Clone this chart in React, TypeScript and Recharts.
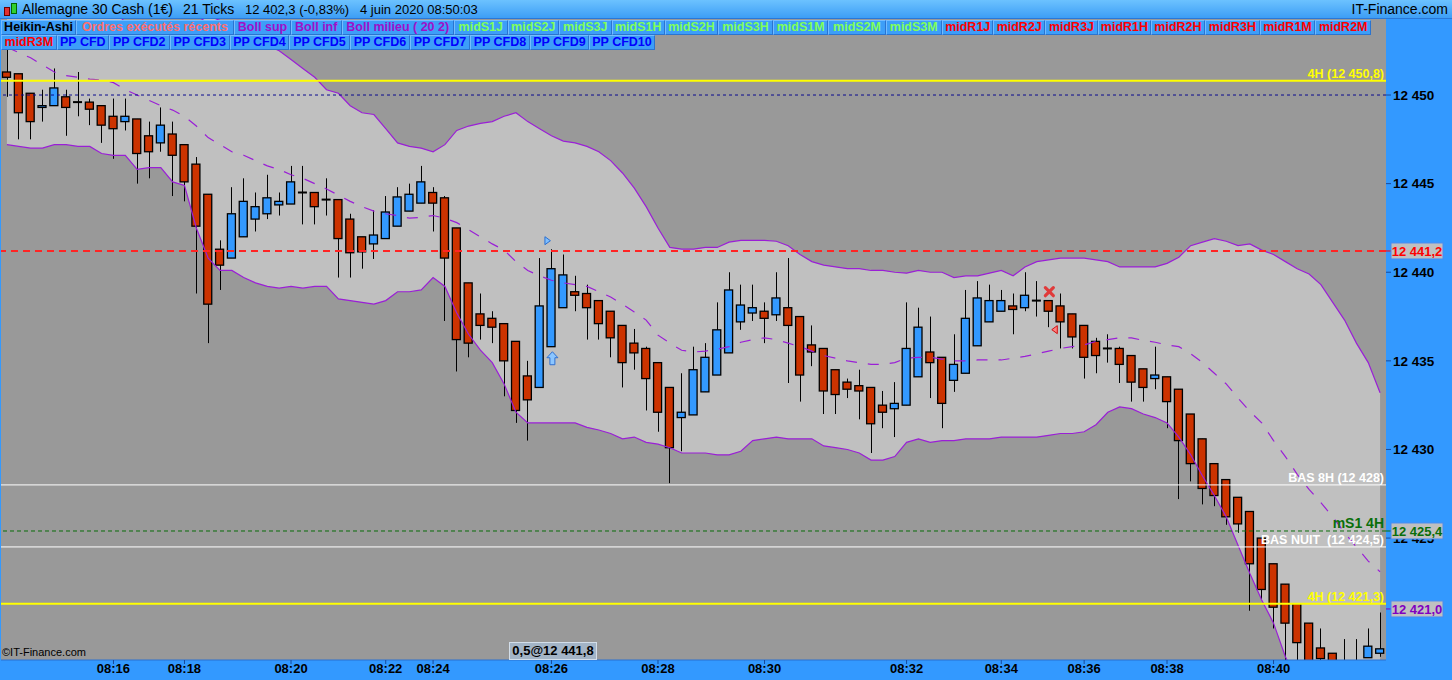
import React from "react";
import {
  ComposedChart,
  Bar,
  Area,
  Line,
  XAxis,
  YAxis,
  CartesianGrid,
  ReferenceLine,
  ReferenceDot,
} from "recharts";

const FONT = "'Liberation Sans', Arial, sans-serif";
const RED = "#cc3300";
const BLUE = "#3399ff";
const PURPLE = "#9a1fd6";

// Heikin-Ashi candles, 21 ticks each
const open = [
  12451.3, 12451.2, 12450.1, 12449.3, 12449.4, 12449.9, 12449.6, 12449.6, 12449.4, 12448.8,
  12448.5, 12448.65, 12447.7, 12447.3, 12447.8, 12447.2, 12446.1, 12444.4, 12441.3, 12440.8,
  12442.0, 12443.0, 12443.3, 12443.8, 12443.85, 12444.5, 12444.5, 12444.1, 12444.1, 12443.0,
  12442.0, 12441.6, 12441.9, 12442.6, 12443.45, 12443.9, 12444.5, 12444.2, 12442.5, 12439.4,
  12437.65, 12437.4, 12437.1, 12436.1, 12434.15, 12433.5, 12435.8, 12438.0, 12438.9, 12438.8,
  12438.4, 12437.8, 12437.0, 12436.0, 12435.7, 12434.9, 12433.5, 12431.8, 12431.95, 12433.25,
  12434.2, 12435.45, 12437.2, 12437.7, 12437.8, 12437.6, 12438.0, 12437.5, 12435.9, 12435.7,
  12434.5, 12433.8, 12433.6, 12433.5, 12432.5, 12432.3, 12432.5, 12434.1, 12435.5, 12435.2,
  12433.9, 12434.3, 12435.85, 12437.2, 12437.8, 12438.1, 12438.0, 12438.4, 12438.4, 12438.1,
  12437.65, 12437.0, 12436.1, 12435.7, 12435.7, 12435.3, 12434.55, 12434.0, 12434.1, 12433.4,
  12432.0, 12430.6, 12429.2, 12428.3, 12427.3, 12426.5, 12425.0, 12423.55, 12422.4, 12421.3,
  12420.2, 12418.8, 12418.5, 12418.05, 12417.7, 12418.25, 12418.5,
];
const high = [
  12452.7, 12451.2, 12450.1, 12450.3, 12451.5, 12450.3, 12451.3, 12449.8, 12449.4, 12449.8,
  12449.8, 12448.65, 12448.5, 12449.3, 12448.5, 12447.2, 12446.5, 12444.4, 12441.8, 12444.8,
  12445.3, 12444.5, 12445.5, 12444.5, 12446.0, 12446.0, 12444.5, 12445.3, 12444.1, 12443.3,
  12442.0, 12443.5, 12444.3, 12444.8, 12445.0, 12446.0, 12444.8, 12444.3, 12442.5, 12439.4,
  12438.8, 12437.8, 12437.1, 12436.1, 12435.0, 12440.8, 12441.3, 12441.0, 12439.8, 12439.3,
  12438.4, 12437.8, 12437.0, 12436.8, 12435.8, 12434.9, 12433.5, 12434.3, 12435.8, 12436.0,
  12438.3, 12440.0, 12439.3, 12439.3, 12438.3, 12440.0, 12440.8, 12437.5, 12437.0, 12435.7,
  12434.5, 12434.0, 12434.5, 12433.5, 12433.3, 12433.8, 12438.3, 12438.0, 12437.5, 12435.2,
  12436.5, 12439.0, 12439.5, 12439.3, 12439.0, 12438.8, 12440.0, 12439.5, 12438.4, 12438.8,
  12437.65, 12437.0, 12436.3, 12436.5, 12435.8, 12435.3, 12434.55, 12435.8, 12434.1, 12433.4,
  12432.0, 12430.6, 12429.2, 12428.3, 12427.3, 12426.5, 12425.0, 12423.55, 12422.4, 12421.3,
  12420.2, 12419.9, 12418.5, 12419.3, 12419.3, 12419.9, 12420.8,
];
const low = [
  12449.9, 12447.5, 12447.5, 12448.5, 12449.4, 12447.7, 12448.8, 12448.3, 12447.3, 12446.4,
  12448.0, 12445.0, 12445.3, 12446.8, 12444.3, 12444.0, 12438.8, 12436.0, 12439.0, 12440.8,
  12442.0, 12442.3, 12443.0, 12443.2, 12443.85, 12442.7, 12442.7, 12443.2, 12439.7, 12439.7,
  12440.2, 12440.75, 12441.9, 12442.6, 12443.45, 12443.9, 12442.3, 12437.25, 12434.4, 12435.2,
  12436.2, 12436.0, 12433.0, 12431.5, 12430.5, 12433.5, 12435.8, 12438.0, 12437.8, 12436.2,
  12436.2, 12435.2, 12433.5, 12434.5, 12432.2, 12431.0, 12428.1, 12429.9, 12431.95, 12433.25,
  12434.2, 12435.45, 12436.75, 12437.25, 12436.0, 12437.25, 12433.75, 12432.7, 12434.7, 12432.0,
  12432.0, 12432.9, 12431.7, 12429.8, 12431.2, 12430.7, 12432.5, 12434.1, 12432.9, 12431.2,
  12433.25, 12434.3, 12435.85, 12437.2, 12437.8, 12436.5, 12437.8, 12437.5, 12436.9, 12435.7,
  12435.7, 12434.0, 12434.3, 12434.9, 12433.75, 12432.7, 12432.7, 12433.4, 12431.2, 12427.2,
  12428.2, 12426.9, 12426.8, 12425.75, 12425.3, 12420.9, 12421.5, 12419.9, 12417.8, 12417.5,
  12417.0, 12417.5, 12417.3, 12417.3, 12417.3, 12418.25, 12418.3,
];
const close = [
  12451.0, 12449.0, 12448.5, 12449.4, 12450.4, 12449.3, 12449.6, 12449.2, 12448.3, 12448.1,
  12448.8, 12446.7, 12446.8, 12448.3, 12446.6, 12445.1, 12442.6, 12438.2, 12440.4, 12443.3,
  12444.0, 12443.7, 12444.2, 12444.0, 12445.1, 12444.5, 12443.7, 12444.1, 12441.9, 12441.1,
  12441.15, 12442.1, 12443.4, 12444.25, 12444.4, 12445.1, 12443.9, 12440.8, 12436.2, 12436.0,
  12437.0, 12436.9, 12435.0, 12432.2, 12432.8, 12438.1, 12440.2, 12439.85, 12438.7, 12438.0,
  12437.1, 12436.3, 12434.9, 12435.45, 12434.0, 12432.1, 12430.1, 12432.1, 12434.5, 12435.2,
  12436.75, 12439.0, 12438.15, 12438.0, 12437.4, 12438.55, 12437.0, 12434.2, 12435.5, 12433.3,
  12433.1, 12433.4, 12433.3, 12431.45, 12432.1, 12432.6, 12435.7, 12436.9, 12434.9, 12432.6,
  12434.8, 12437.4, 12438.55, 12438.4, 12438.4, 12437.9, 12438.7, 12438.4, 12437.8, 12437.2,
  12436.35, 12435.2, 12435.3, 12435.7, 12434.8, 12433.8, 12433.5, 12434.2, 12432.7, 12430.5,
  12429.2, 12427.8, 12427.4, 12426.2, 12425.8, 12423.55, 12422.1, 12421.1, 12420.2, 12419.1,
  12417.4, 12418.2, 12417.6, 12417.6, 12417.9, 12418.9, 12418.75,
];

// Bollinger (20, 2)
const bollSup = [
  12458.2, 12457.8, 12457.2, 12456.4, 12455.4, 12454.9, 12454.9, 12454.7, 12455.0, 12454.8,
  12454.1, 12454.2, 12453.5, 12453.0, 12453.2, 12452.7, 12454.0, 12454.5, 12454.2, 12453.6,
  12453.4, 12453.1, 12452.8, 12452.5, 12452.0, 12451.5, 12451.0, 12450.3, 12450.1, 12449.4,
  12449.0, 12448.9, 12448.1, 12447.3, 12447.1, 12447.0, 12446.8, 12447.2, 12448.0, 12448.25,
  12448.4, 12448.5, 12448.8, 12449.0, 12448.5, 12448.1, 12447.7, 12447.4, 12447.3, 12447.1,
  12446.8, 12446.3, 12445.6, 12444.75, 12443.7, 12442.5, 12441.4, 12441.3, 12441.3, 12441.4,
  12441.4, 12441.7, 12441.8, 12441.8, 12441.8, 12441.75, 12441.5, 12441.0, 12440.6, 12440.4,
  12440.3, 12440.2, 12440.2, 12440.1, 12440.1, 12440.0, 12439.95, 12440.1, 12440.0, 12440.0,
  12439.7, 12439.8, 12439.8, 12439.95, 12440.1, 12439.8, 12440.3, 12440.6, 12440.7, 12440.8,
  12440.8, 12440.8, 12440.7, 12440.6, 12440.3, 12440.3, 12440.3, 12440.3, 12440.5, 12440.85,
  12441.5, 12441.7, 12441.9, 12441.75, 12441.5, 12441.6, 12441.25, 12441.0, 12440.6, 12440.2,
  12439.9, 12439.3, 12438.3, 12437.3, 12436.0, 12434.9, 12433.2,
];
const bollInf = [
  12447.2, 12447.1, 12447.0, 12447.0, 12447.2, 12447.2, 12447.1, 12447.1, 12446.7, 12446.6,
  12446.6, 12445.8, 12445.9, 12445.9, 12445.1, 12444.9, 12442.5, 12440.8, 12440.1, 12440.1,
  12439.7, 12439.4, 12439.2, 12439.1, 12439.2, 12439.1, 12439.2, 12439.2, 12438.5, 12438.4,
  12438.3, 12438.2, 12438.4, 12438.9, 12438.9, 12439.0, 12439.7, 12439.2, 12437.7, 12436.5,
  12435.6, 12434.9, 12433.7, 12432.1, 12431.5, 12431.5, 12431.5, 12431.5, 12431.5, 12431.25,
  12431.1, 12430.9, 12430.6, 12430.7, 12430.4, 12430.3, 12430.1, 12429.8, 12429.8, 12429.8,
  12429.7, 12429.7, 12429.9, 12430.5, 12430.6, 12430.7, 12430.6, 12430.6, 12430.6, 12430.2,
  12430.1, 12430.0, 12429.8, 12429.4, 12429.4, 12429.6, 12430.4, 12430.6, 12430.4, 12430.5,
  12430.5, 12430.6, 12430.6, 12430.6, 12430.7, 12430.7, 12430.7, 12430.7, 12430.8, 12430.9,
  12430.9, 12431.0, 12431.4, 12432.1, 12432.4, 12432.3, 12432.0, 12431.8, 12431.5, 12430.7,
  12429.7, 12428.5, 12427.4, 12426.2, 12424.6, 12423.0, 12421.5, 12420.2, 12418.3, 12417.0,
  12415.6, 12414.8, 12414.1, 12413.4, 12413.0, 12412.6, 12413.0,
];
const bollMid = [
  12452.7, 12452.4, 12452.1, 12451.7, 12451.3, 12451.1, 12451.0, 12450.9, 12450.85, 12450.7,
  12450.3, 12450.0, 12449.7, 12449.4, 12449.15, 12448.8, 12448.25, 12447.6, 12447.2, 12446.8,
  12446.6, 12446.3, 12446.0, 12445.8, 12445.5, 12445.3, 12445.0, 12444.7, 12444.35, 12444.0,
  12443.7, 12443.45, 12443.3, 12443.2, 12443.05, 12443.1, 12443.2, 12443.05, 12442.8, 12442.4,
  12442.0, 12441.6, 12441.25, 12440.6, 12440.1, 12439.8, 12439.55, 12439.4, 12439.3, 12439.2,
  12438.9, 12438.6, 12438.2, 12437.75, 12437.3, 12436.45, 12436.0, 12435.6, 12435.5, 12435.55,
  12435.65, 12435.8, 12436.05, 12436.2, 12436.3, 12436.2, 12436.0, 12435.8, 12435.55, 12435.3,
  12435.15, 12435.0, 12434.9, 12434.8, 12434.8, 12434.9, 12435.15, 12435.2, 12435.2, 12435.1,
  12435.0, 12435.0, 12435.05, 12435.05, 12435.05, 12435.15, 12435.25, 12435.4, 12435.55, 12435.7,
  12435.8, 12435.9, 12436.1, 12436.2, 12436.3, 12436.3, 12436.15, 12436.05, 12435.9, 12435.8,
  12435.4, 12434.9, 12434.3, 12433.7, 12432.9, 12432.15, 12431.5, 12430.5, 12429.6, 12428.6,
  12427.75, 12427.0, 12426.2, 12425.3, 12424.5, 12423.7, 12423.1,
];

const timeIdx = [9, 15, 24, 32, 36, 46, 55, 64, 76, 84, 91, 98, 107];
const timeLabels = ["08:16", "08:18", "08:20", "08:22", "08:24", "08:26", "08:28", "08:30", "08:32", "08:34", "08:36", "08:38", "08:40"];
const priceTicks = [12430, 12435, 12440, 12445, 12450];
const hiddenTick = 12425; // sits under the mS1 4H value box

// executed orders markers
const orderIdx = [45.66, 46.08, 88.06, 88.52];
const orderPrice = [12441.78, 12435.12, 12438.9, 12436.76];
const orderKind = ["triR", "arrowUp", "cross", "triL"];

const legendRow1 = ["Heikin-Ashi", "Ordres exécutés récents", "Boll sup", "Boll inf", "Boll milieu ( 20 2)",
  "midS1J", "midS2J", "midS3J", "midS1H", "midS2H", "midS3H", "midS1M", "midS2M", "midS3M",
  "midR1J", "midR2J", "midR3J", "midR1H", "midR2H", "midR3H", "midR1M", "midR2M"];
const legendRow2 = ["midR3M", "PP CFD", "PP CFD2", "PP CFD3", "PP CFD4", "PP CFD5", "PP CFD6", "PP CFD7", "PP CFD8", "PP CFD9", "PP CFD10"];

const Y_MIN = 12418.12;
const Y_MAX = 12454.29;

const data = open.map((o, i) => ({
  i,
  open: o,
  high: high[i],
  low: low[i],
  close: close[i],
  hl: [low[i], high[i]],
  band: [bollInf[i], bollSup[i]],
  sup: bollSup[i],
  inf: bollInf[i],
  mid: bollMid[i],
}));

const fmtPrice = (v: number) => {
  const s = v.toFixed(0);
  return s.slice(0, -3) + " " + s.slice(-3);
};

const Candle = (props: any) => {
  const { x, y, width, height, payload } = props;
  if (x == null || !payload) return null;
  const { open: o, close: c, high: h, low: l } = payload;
  const top = Math.min(y, y + height);
  const bottom = Math.max(y, y + height);
  const span = h - l;
  const toY = (v: number) => (span > 0 ? top + ((h - v) / span) * (bottom - top) : top);
  const cx = Math.round(x + width / 2) + 0.5;
  const yTop = toY(Math.max(o, c));
  const yBot = toY(Math.min(o, c));
  const flat = Math.abs(c - o) < 0.01;
  return (
    <g>
      <line x1={cx} x2={cx} y1={top} y2={bottom} stroke="#000" strokeWidth={1} />
      {flat ? (
        <rect x={x} y={yTop - 1} width={width} height={2} fill="#000" />
      ) : (
        <rect
          x={x + 0.5}
          y={yTop}
          width={width - 1}
          height={Math.max(1, yBot - yTop)}
          fill={c > o ? BLUE : RED}
          stroke="#000"
          strokeWidth={1.3}
        />
      )}
    </g>
  );
};

const LineTag = (props: any) => {
  const { viewBox, text, color, size = 12.5 } = props;
  if (!viewBox) return null;
  return (
    <text
      x={viewBox.x + viewBox.width - 2}
      y={viewBox.y - 3}
      textAnchor="end"
      fill={color}
      fontSize={size}
      fontWeight="bold"
      fontFamily={FONT}
    >
      {text}
    </text>
  );
};

const AxisTag = (props: any) => {
  const { viewBox, text, color } = props;
  if (!viewBox) return null;
  const x0 = viewBox.x + viewBox.width;
  const y0 = viewBox.y;
  return (
    <g>
      <line x1={x0} x2={x0 + 5} y1={y0} y2={y0} stroke={color} strokeWidth={1} />
      <rect x={x0 + 5} y={y0 - 8} width={52} height={16} fill="#c0c0c0" stroke="#4a8cf0" strokeWidth={1} />
      <text x={x0 + 31} y={y0 + 5} textAnchor="middle" fill={color} fontSize={13} fontWeight="bold" fontFamily={FONT}>
        {text}
      </text>
    </g>
  );
};

// axis tick drawn in the reference-line layer, so the value box can cover it
const AxisTick = (props: any) => {
  const { viewBox, text } = props;
  if (!viewBox) return null;
  const x0 = viewBox.x + viewBox.width;
  const y0 = viewBox.y;
  return (
    <g>
      <line x1={x0} x2={x0 + 5} y1={y0} y2={y0} stroke="#184a9a" strokeWidth={1} />
      <text x={x0 + 7} y={y0 + 5} fill="#000" fontSize={13.5} fontWeight="bold" fontFamily={FONT}>
        {text}
      </text>
    </g>
  );
};

const OrderMark = (props: any) => {
  const { cx, cy, kind } = props;
  if (cx == null) return null;
  if (kind === "triR")
    return <path d={`M${cx - 2.5},${cy - 4} L${cx + 3},${cy} L${cx - 2.5},${cy + 4} Z`} fill="#7fbfff" stroke="#2a6fd0" strokeWidth={1} />;
  if (kind === "triL")
    return <path d={`M${cx + 2.5},${cy - 4} L${cx - 3},${cy} L${cx + 2.5},${cy + 4} Z`} fill="#ff8080" stroke="#d01010" strokeWidth={1} />;
  if (kind === "arrowUp")
    return (
      <path
        d={`M${cx},${cy - 7} L${cx + 5.5},${cy - 1} L${cx + 2.5},${cy - 1} L${cx + 2.5},${cy + 6} L${cx - 2.5},${cy + 6} L${cx - 2.5},${cy - 1} L${cx - 5.5},${cy - 1} Z`}
        fill="#8cc6ff"
        stroke="#3070d0"
        strokeWidth={1}
      />
    );
  return (
    <g stroke="#e03a3a" strokeWidth={3.2} strokeLinecap="round">
      <line x1={cx - 4} y1={cy - 4} x2={cx + 4} y2={cy + 4} />
      <line x1={cx - 4} y1={cy + 4} x2={cx + 4} y2={cy - 4} />
    </g>
  );
};

const row1Widths = [75, 158, 57, 50.5, 112.5, 53.6, 51.4, 52.6, 53.4, 53, 55, 55.5, 57.1, 56.4, 51.5, 51.5, 53, 53, 54, 55, 55, 56.5];
const row2Widths = [55.7, 52.3, 60.6, 60.4, 59, 61, 60, 60, 60, 59, 66];

const legendColor = (name: string) => {
  if (name === "Heikin-Ashi") return "#000";
  if (name.startsWith("Ordres")) return "#ff6e6e";
  if (name.startsWith("Boll")) return "#a010c8";
  if (name.startsWith("midS")) return "#80ff5a";
  if (name.startsWith("midR")) return "#ff0000";
  return "#0000ff";
};

const LegendRow = ({ names, widths, top }: { names: string[]; widths: number[]; top: number }) => (
  <div style={{ position: "absolute", left: 1, top, display: "flex", height: 15 }}>
    {names.map((n, k) => (
      <div
        key={n}
        style={{
          width: widths[k],
          height: 15,
          boxSizing: "border-box",
          background: "#3d9ef8",
          borderTop: "1px solid #74bcff",
          borderLeft: "1px solid #74bcff",
          borderRight: "1px solid #2a74d0",
          borderBottom: "1px solid #2a74d0",
          color: legendColor(n),
          fontFamily: FONT,
          fontWeight: "bold",
          fontSize: 12.5,
          lineHeight: "13px",
          textAlign: "center",
          whiteSpace: "nowrap",
          overflow: "hidden",
        }}
      >
        {n}
      </div>
    ))}
  </div>
);

export default function App() {
  return (
    <div style={{ position: "relative", width: 1452, height: 680, background: "#3399ff", overflow: "hidden", fontFamily: FONT }}>
      <style>{`body{margin:0}`}</style>
      <ComposedChart width={1452} height={680} data={data} margin={{ top: 19, right: 0, bottom: 0, left: 1 }}>
        <CartesianGrid fill="#999999" horizontal={false} vertical={false} />
        <XAxis
          dataKey="i"
          type="number"
          domain={[-0.5, 116.5]}
          allowDataOverflow
          ticks={timeIdx}
          interval={0}
          tickFormatter={(v: number) => timeLabels[timeIdx.indexOf(v)] ?? ""}
          height={20}
          tickSize={4}
          tickMargin={0}
          axisLine={{ stroke: "#2a70d0" }}
          tickLine={{ stroke: "#184a9a" }}
          tick={{ fill: "#000", fontSize: 13, fontWeight: "bold", fontFamily: FONT }}
        />
        <YAxis
          orientation="right"
          type="number"
          domain={[Y_MIN, Y_MAX]}
          allowDataOverflow
          ticks={priceTicks}
          interval={0}
          width={66}
          tickSize={5}
          tickMargin={2}
          axisLine={false}
          tickLine={{ stroke: "#184a9a" }}
          tickFormatter={fmtPrice}
          tick={{ fill: "#000", fontSize: 13.5, fontWeight: "bold", fontFamily: FONT }}
        />
        <Area dataKey="band" type="linear" stroke="none" fill="#c0c0c0" fillOpacity={1} isAnimationActive={false} />
        <Bar dataKey="hl" barSize={9} shape={Candle} isAnimationActive={false} />
        <Line dataKey="sup" type="linear" stroke={PURPLE} strokeWidth={1.2} dot={false} isAnimationActive={false} />
        <Line dataKey="inf" type="linear" stroke={PURPLE} strokeWidth={1.2} dot={false} isAnimationActive={false} />
        <Line dataKey="mid" type="linear" stroke={PURPLE} strokeWidth={1.2} strokeDasharray="11 11" dot={false} isAnimationActive={false} />

        <ReferenceLine y={12450.8} stroke="#ffff00" strokeWidth={2} label={<LineTag text="4H (12 450,8)" color="#ffff00" />} />
        <ReferenceLine y={12450} stroke="#0a0a90" strokeWidth={1} strokeDasharray="3 3" />
        <ReferenceLine y={12441.2} stroke="#ff2424" strokeWidth={2} strokeDasharray="7 5" label={<AxisTag text="12 441,2" color="#ff0000" />} />
        <ReferenceLine y={12428} stroke="#ffffff" strokeWidth={1} label={<LineTag text="BAS 8H (12 428)" color="#ffffff" />} />
        <ReferenceLine y={hiddenTick} stroke="none" label={<AxisTick text={fmtPrice(hiddenTick)} />} />
        <ReferenceLine y={12425.4} stroke="#0a6e0a" strokeWidth={1} strokeDasharray="4 3" label={<LineTag text="mS1 4H" color="#0a6e0a" size={14} />} />
        <ReferenceLine y={12425.4} stroke="none" label={<AxisTag text="12 425,4" color="#0a6e0a" />} />
        <ReferenceLine y={12424.5} stroke="#ffffff" strokeWidth={1} label={<LineTag text={"BAS NUIT\u00a0\u00a0(12 424,5)"} color="#ffffff" />} />
        <ReferenceLine y={12421.3} stroke="#ffff00" strokeWidth={2} label={<LineTag text="4H (12 421,3)" color="#ffff00" />} />
        <ReferenceLine y={12421.0} stroke="none" label={<AxisTag text="12 421,0" color="#8000c0" />} />

        {orderIdx.map((x, k) => (
          <ReferenceDot
            key={k}
            x={x}
            y={orderPrice[k]}
            r={5}
            shape={(p: any) => <OrderMark {...p} kind={orderKind[k]} />}
          />
        ))}
      </ComposedChart>

      {/* title bar */}
      <div
        style={{
          position: "absolute",
          left: 0,
          top: 0,
          width: 1452,
          height: 19,
          background: "linear-gradient(#6cc2ff, #3d9ef6)",
          borderBottom: "1px solid #2a78d8",
          boxSizing: "border-box",
          fontSize: 14,
          color: "#000",
          whiteSpace: "nowrap",
        }}
      >
        <div style={{ position: "absolute", left: 4, top: 7, width: 4, height: 7, background: "#e03030", border: "1px solid #600" }} />
        <div style={{ position: "absolute", left: 11, top: 3, width: 4, height: 9, background: "#30d030", border: "1px solid #060" }} />
        <span style={{ position: "absolute", left: 22, top: 1 }}>Allemagne 30 Cash (1€)</span>
        <span style={{ position: "absolute", left: 183, top: 1 }}>21 Ticks</span>
        <span style={{ position: "absolute", left: 245, top: 2, fontSize: 13 }}>12 402,3 (-0,83%)</span>
        <span style={{ position: "absolute", left: 360, top: 2, fontSize: 13 }}>4 juin 2020 08:50:03</span>
        <span style={{ position: "absolute", right: 4, top: 1 }}>IT-Finance.com</span>
      </div>

      <LegendRow names={legendRow1} widths={row1Widths} top={20} />
      <LegendRow names={legendRow2} widths={row2Widths} top={35} />

      <div style={{ position: "absolute", left: 2, top: 646, fontSize: 11, color: "#000" }}>©IT-Finance.com</div>
      <div
        style={{
          position: "absolute",
          left: 509,
          top: 642,
          width: 88,
          height: 18,
          boxSizing: "border-box",
          background: "#a3b4c6",
          border: "1px solid #d3deea",
          fontSize: 13,
          fontWeight: "bold",
          textAlign: "center",
          lineHeight: "16px",
        }}
      >
        0,5@12 441,8
      </div>
    </div>
  );
}
